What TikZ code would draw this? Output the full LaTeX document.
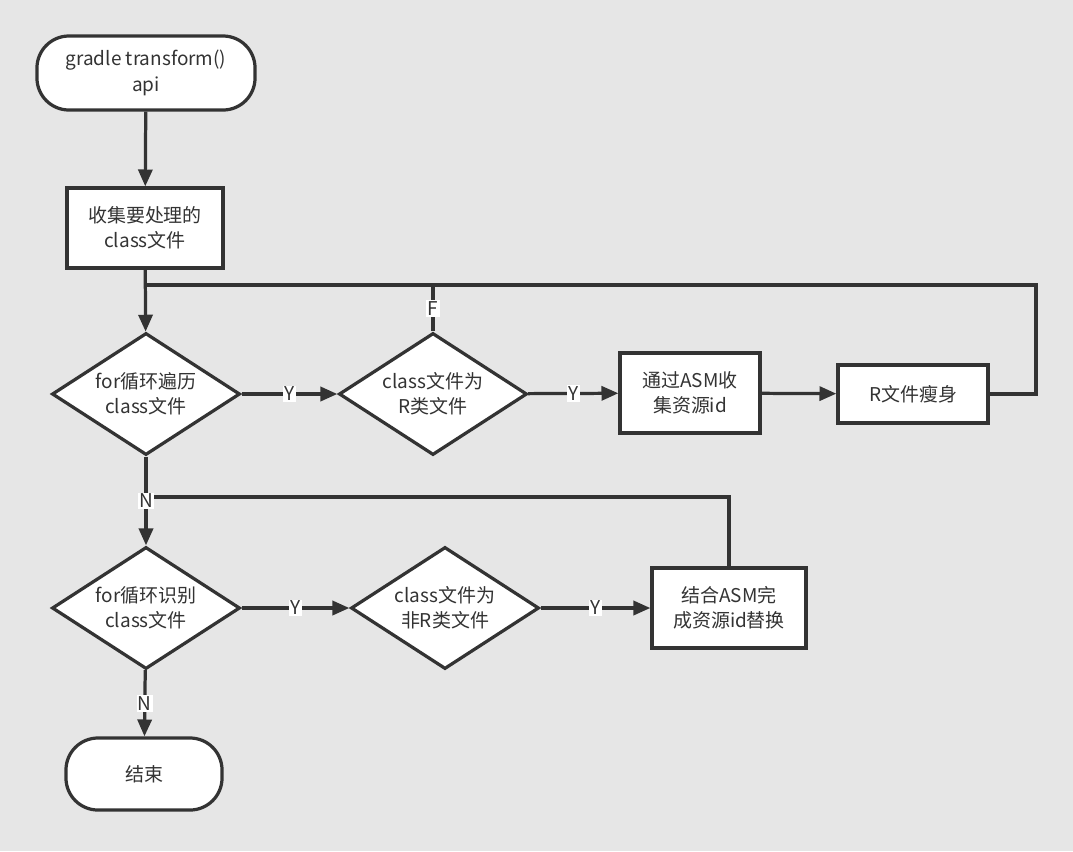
\documentclass[tikz,border=0pt]{standalone}
\usepackage{fontspec}
\setmainfont{Noto Sans CJK SC}
\usetikzlibrary{shapes.geometric,arrows.meta}
\definecolor{bggray}{RGB}{230,230,230}
\definecolor{inkgray}{RGB}{51,51,51}

\begin{document}
\begin{tikzpicture}[x=0.025cm,y=-0.025cm]
                    \tikzset{every node/.style={font=\fontsize{13.5}{18}\selectfont, text=inkgray, align=center}}
                    \tikzset{terminal/.style={draw=inkgray, line width=2.3pt, fill=white, rounded corners=0.8cm, minimum width=#1, minimum height=1.85cm}}
                    \tikzset{process/.style={draw=inkgray, line width=2.3pt, fill=white}}
                    \tikzset{decision/.style={diamond, draw=inkgray, line width=2.3pt, fill=white, aspect=1.5, inner sep=0pt, minimum width=4.7cm, minimum height=3.05cm}}
                    \tikzset{flow/.style={draw=inkgray, line width=2.3pt, -{Triangle[length=12pt,width=10pt]}}}
                    \tikzset{link/.style={draw=inkgray, line width=2.3pt}}
                    \tikzset{lbl/.style={fill=white, inner sep=1pt}}
                    \fill[bggray] (0,0) rectangle (1073,851);
                    \useasboundingbox (0,0) rectangle (1073,851);
                    \node[terminal=5.45cm] (start) at (146,73) {gradle transform()\\api};
                    \node[process, minimum width=3.9cm, minimum height=2cm] (collect) at (145,228) {收集要处理的\\class文件};
                    \node[decision] (loop1) at (146,394) {for循环遍历\\class文件};
                    \node[decision] (isR) at (433,394) {class文件为\\R类文件};
                    \node[process, minimum width=3.5cm, minimum height=2cm] (gather) at (690,393) {通过ASM收\\集资源id};
                    \node[process, minimum width=3.75cm, minimum height=1.45cm] (slim) at (913,394) {R文件瘦身};
                    \node[decision] (loop2) at (146,608) {for循环识别\\class文件};
                    \node[decision] (notR) at (445,608) {class文件为\\非R类文件};
                    \node[process, minimum width=3.85cm, minimum height=2cm] (swap) at (729,608) {结合ASM完\\成资源id替换};
                    \node[terminal=3.9cm, minimum height=1.8cm] (stop) at (144,774) {结束};
                    \coordinate (backR) at (1036,285);
                    \coordinate (backJ) at (146,285);
                    \coordinate (swapJ) at (146,497);
                    \draw[flow] (start) -- (collect);
                    \draw[flow] (collect) -- (loop1);
                    \draw[link] (slim.east) -| (backR) -- (backJ);
                    \draw[link] (isR.north) -- node[lbl]{F} (isR.north |- backJ);
                    \draw[flow] (loop1) -- node[lbl]{Y} (isR);
                    \draw[flow] (isR) -- node[lbl]{Y} (gather);
                    \draw[flow] (gather) -- (slim);
                    \draw[link] (swap.north) |- (swapJ);
                    \draw[flow] (loop1) -- node[lbl]{N} (loop2);
                    \draw[flow] (loop2) -- node[lbl]{Y} (notR);
                    \draw[flow] (notR) -- node[lbl]{Y} (swap);
                    \draw[flow] (loop2) -- node[lbl]{N} (stop);
                    \end{tikzpicture}
\end{document}
